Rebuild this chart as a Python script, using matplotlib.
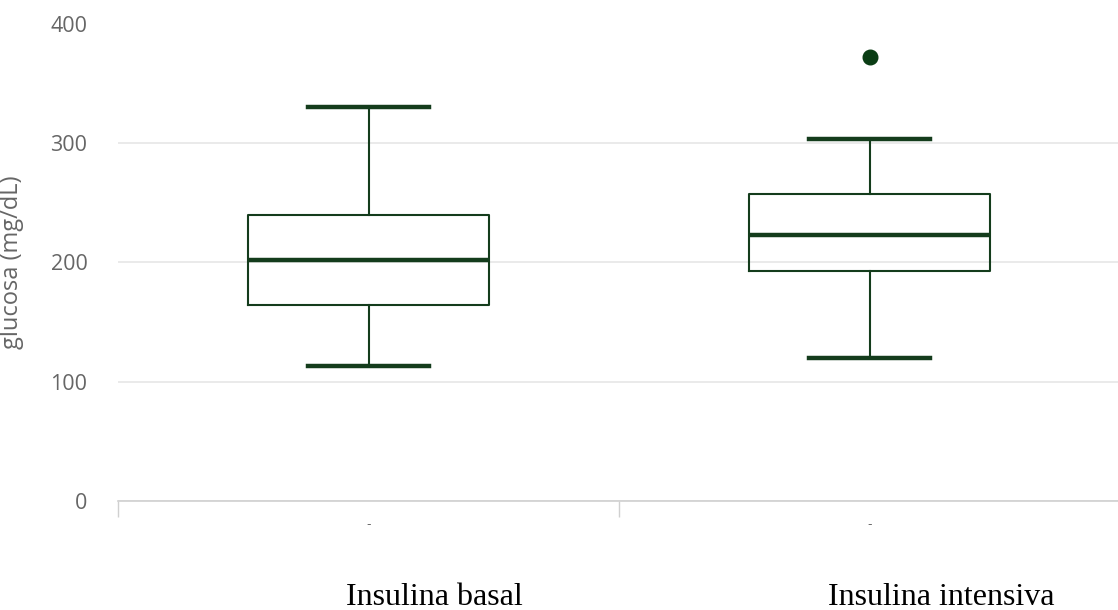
import matplotlib
matplotlib.use("Agg")
import matplotlib.pyplot as plt

categories = ["Insulina basal", "Insulina intensiva"]
whislo = [113.5, 120.0]
q1 = [164.5, 193.0]
med = [201.8, 222.7]
q3 = [239.5, 257.0]
whishi = [330.4, 303.0]
fliers = [[], [371.6]]
yticks = [0, 100, 200, 300, 400]

# horizontal offsets of the category captions (layout only)
caption_offset = [0.1315, 0.1434]

line_col = "#143c1c"
grid_col = "#e6e6e6"
axis_col = "#d0d0d0"
text_col = "#666666"

fig = plt.figure(figsize=(11.18, 6.10), dpi=100)
ax = fig.add_axes([118/1118, 109/610, 1002/1118, 477.5/610])

stats = []
for i, c in enumerate(categories):
    stats.append(dict(label=c, whislo=whislo[i], q1=q1[i], med=med[i],
                      q3=q3[i], whishi=whishi[i], fliers=fliers[i]))

ax.bxp(stats, positions=range(len(categories)), widths=0.482, capwidths=0.24,
       showfliers=True,
       boxprops=dict(color=line_col, linewidth=1.5),
       whiskerprops=dict(color=line_col, linewidth=1.5),
       capprops=dict(color=line_col, linewidth=3.2),
       medianprops=dict(color=line_col, linewidth=3.2),
       flierprops=dict(marker="o", markersize=10.5, markerfacecolor="#0a3d14",
                       markeredgecolor="#0a3d14"))

ax.set_xlim(-0.5, len(categories) - 0.5)
ax.set_ylim(0, 400)
ax.set_yticks(yticks)
ax.yaxis.grid(True, color=grid_col, linewidth=1.2)
ax.set_axisbelow(True)

for s in ["top", "right", "left"]:
    ax.spines[s].set_visible(False)
ax.spines["bottom"].set_color(axis_col)
ax.spines["bottom"].set_linewidth(1.2)

ax.tick_params(axis="y", length=0, pad=22, labelsize=15.5, labelcolor=text_col)
for lab in ax.get_yticklabels():
    lab.set_family("Open Sans")

# small dash tick labels at category centres
ax.set_xticks(range(len(categories)))
ax.set_xticklabels(["-"] * len(categories), fontsize=9, color=text_col)
ax.tick_params(axis="x", which="major", length=0, pad=12)
ax.set_xticks([i - 0.5 for i in range(len(categories) + 1)], minor=True)
ax.tick_params(axis="x", which="minor", length=11.5, width=1.0, color=axis_col)

for i, c in enumerate(categories):
    ax.text(i + caption_offset[i], -0.218, c, transform=ax.get_xaxis_transform(),
            ha="center", va="baseline", family="Liberation Serif", fontsize=23,
            color="black")

ax.set_ylabel("glucosa (mg/dL)", family="Open Sans", fontsize=17, color=text_col)
ax.yaxis.set_label_coords(-0.094, 0.5)

fig.savefig("out.png", dpi=100)
